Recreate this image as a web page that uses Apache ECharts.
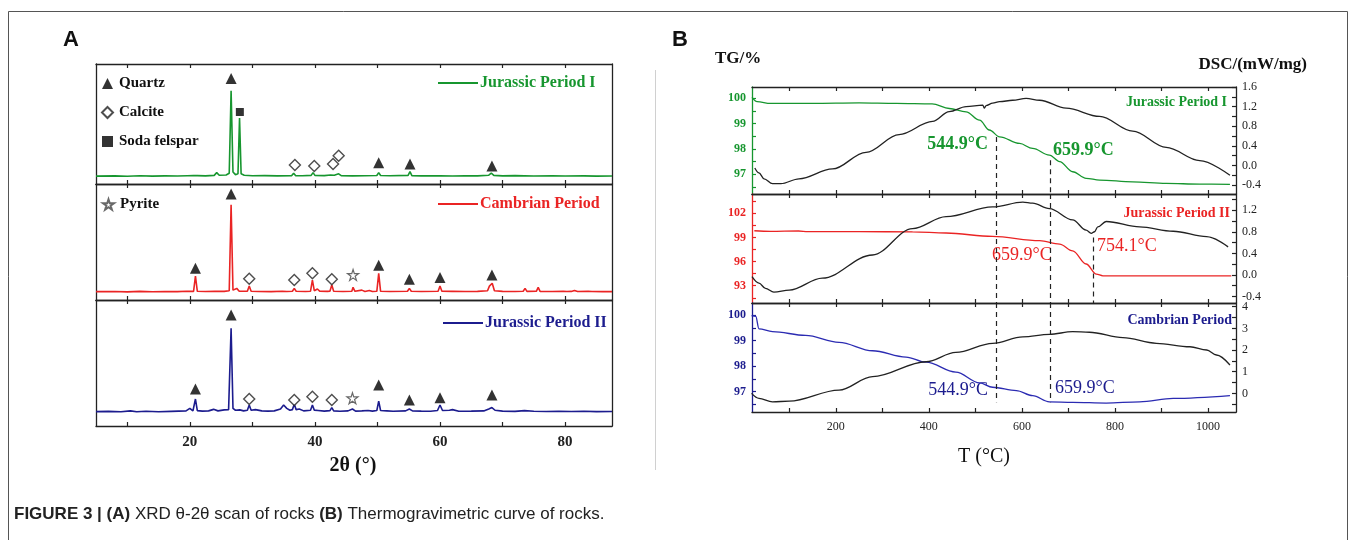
<!DOCTYPE html>
<html>
<head>
<meta charset="utf-8">
<script src="https://cdn.jsdelivr.net/npm/echarts@6/dist/echarts.min.js"></script>
<style>
html,body{margin:0;padding:0;background:#fff}
#main{width:1356px;height:540px}
</style>
</head>
<body>
<div id="main"></div>
<script>
// ---------- panel A : XRD patterns, [2theta, intensity (a.u.)]
var xrdJurassic1 = [[5,6.6],[8,6.8],[10,6.5],[12,6.9],[14,6.6],[16,6.8],[18,6.7],[19.6,6.9],[20.6,7],[20.9,8.5],[21.2,7],[22.5,6.8],[23.9,7.2],[24.3,9.5],[24.7,7.3],[25.8,7.5],[26.3,9],[26.6,77.7],[26.9,10],[27.3,7.8],[27.7,8.5],[27.95,55],[28.2,8.5],[28.7,7.3],[30,6.9],[32,7],[34,6.8],[36.3,7],[36.6,9],[36.9,7],[38,6.9],[39.4,7.2],[39.7,9.5],[40,7.2],[41.5,7],[42.5,7.5],[42.8,8.8],[43.1,7.3],[43.8,8.5],[44.2,7],[46,6.8],[48,6.9],[49.9,7.1],[50.2,9.5],[50.5,7.1],[52,6.9],[54.9,7.2],[55.2,10.3],[55.5,7],[57,6.8],[60,6.9],[62,6.7],[64,6.9],[66,6.8],[67.8,7.3],[68.2,9],[68.6,7.2],[70,6.8],[72,7],[75,6.7],[78,6.9],[80,6.7],[83,6.8],[85,6.6],[87.5,6.7]];
var xrdCambrian = [[5,7.2],[8,7.3],[10,7],[12,7.4],[14,7.1],[16,7.3],[18,7.2],[19.5,7.6],[20.6,7.4],[20.9,20.7],[21.2,7.5],[22.5,7.3],[24,7.6],[25.5,7.4],[26.3,8],[26.6,82],[26.9,8.5],[27.5,10],[27.9,7.6],[29.2,7.5],[29.5,12],[29.8,7.5],[31,7.3],[33,7.2],[34.8,7.6],[35.5,7.3],[36.4,7.6],[36.7,10],[37,7.5],[38.5,7.3],[39.3,7.6],[39.6,17.2],[39.9,8],[40.4,9.5],[40.8,7.5],[42,7.4],[42.4,7.6],[42.7,12.9],[43,7.6],[44.5,7.3],[45.9,7.6],[46.1,10.9],[46.4,7.5],[47.5,8.5],[48,7.3],[48.7,8.2],[49.2,7.3],[49.9,7.5],[50.2,23],[50.5,7.5],[52,7.3],[54.8,7.6],[55.1,10],[55.4,7.5],[57,7.3],[59.7,7.6],[60,12],[60.3,7.5],[62,7.4],[64,7.3],[66,7.4],[67.6,8],[67.9,12],[68.15,10.5],[68.35,14.4],[68.7,8],[70,7.4],[72,7.3],[73.3,7.5],[73.6,10],[73.9,7.4],[75.4,7.5],[75.7,10.9],[76,7.4],[78,7.3],[79.7,7.4],[80,8.6],[80.3,7.3],[81,7.4],[81.5,8.2],[82,7.3],[83.7,7.4],[84,8.6],[84.3,7.3],[86,7.2],[87.5,7.2]];
var xrdJurassic2 = [[5,11.4],[7,11.6],[9,11.3],[10.5,12],[11.5,11.3],[13,11.7],[15,11.3],[17,11.6],[19.4,12],[20,14],[20.5,12],[20.9,21.4],[21.2,12.2],[22,11.8],[23,12],[23.8,13.2],[24.5,12],[25.5,12.8],[26.2,13],[26.6,77.5],[26.9,14],[27.3,12.5],[28,12.8],[28.6,12],[29.2,12.5],[29.5,16.7],[29.8,12.5],[30.5,13],[31.5,12],[32.5,11.8],[33.5,12],[34.5,13.5],[35,16.7],[35.5,14],[36,12.5],[36.4,13],[36.7,17.2],[37,13],[37.5,13.5],[38.2,12],[39.3,12.5],[39.6,16.7],[39.9,12.6],[40.5,12.3],[41.5,11.8],[42.4,12.2],[42.7,14.6],[43,12],[44,11.7],[45.3,12],[46,13.5],[46.5,11.8],[47.5,12],[48.5,12.3],[49.2,11.8],[49.9,12.3],[50.2,19.8],[50.5,12.3],[51.5,12],[52.5,11.7],[54.5,12],[55.1,13.5],[55.6,12],[57,11.8],[58.5,11.7],[59.6,12.3],[60,16.7],[60.4,12.3],[61.5,12.5],[62,13],[63,11.7],[65,11.8],[67,12],[67.8,13.5],[68.3,14.6],[68.8,12.5],[70,11.8],[72,11.6],[73.5,12.2],[75,11.7],[77,11.5],[79,11.7],[81,11.5],[83,11.7],[85,11.4],[87.5,11.5]];

// phase markers [2theta, height]
var j1Quartz = [[26.6,88],[50.2,17.8],[55.2,16.7],[68.3,15]];
var j1Calcite = [[36.8,15.8],[39.9,15],[42.9,16.7],[43.8,23.6]];
var j1Felspar = [[28.0,60]];
var cbQuartz = [[20.9,27.3],[26.6,91.4],[50.2,30],[55.1,17.8],[60,19.5],[68.3,21.6]];
var cbCalcite = [[29.5,18.4],[36.7,17.2],[39.6,23],[42.7,17.8]];
var cbPyrite = [[46.1,21.6]];
var j2Quartz = [[20.9,29.4],[26.6,88],[50.2,32.5],[55.1,20.6],[60,22.5],[68.3,24.6]];
var j2Calcite = [[29.5,21.4],[36.7,20.6],[39.6,23.3],[42.7,20.6]];
var j2Pyrite = [[46,22]];

// ---------- panel B : TG (%) and DSC (mW/mg) vs T (°C)
var tgJurassic1 = [[20,100.04],[31,99.87],[60,99.8],[150,99.8],[250,99.82],[330,99.8],[407,99.78],[444,99.6],[480,99.47],[509,99.14],[530,98.75],[552,98.48],[595,98.22],[623,98.02],[659,97.76],[681,97.5],[709,97.1],[738,96.84],[767,96.77],[838,96.7],[910,96.64],[982,96.61],[1047,96.6]];
var dscJurassic1 = [[26,-0.05],[35,-0.15],[46,-0.27],[64,-0.37],[82,-0.37],[121,-0.27],[193,-0.07],[265,0.27],[336,0.63],[408,0.9],[444,1.1],[480,1.2],[516,1.23],[519,1.17],[523,1.22],[537,1.27],[552,1.3],[580,1.33],[609,1.37],[638,1.33],[695,1.17],[767,1.0],[838,0.7],[910,0.37],[982,0.1],[1047,-0.2]];
var tgJurassic2 = [[25,99.83],[60,99.75],[120,99.8],[140,99.72],[250,99.72],[365,99.7],[437,99.55],[537,99.12],[638,98.6],[681,98.18],[709,97.34],[738,95.7],[760,94.44],[774,94.23],[850,94.23],[950,94.23],[1050,94.23]];
var dscJurassic2 = [[20,-0.03],[35,-0.15],[49,-0.25],[67,-0.32],[100,-0.28],[171,-0.06],[279,0.37],[365,0.86],[437,1.08],[537,1.26],[602,1.35],[623,1.33],[659,1.23],[709,1.02],[738,0.83],[749,0.77],[756,0.8],[763,0.89],[781,0.99],[853,0.89],[925,0.81],[997,0.71],[1043,0.52]];
var tgCambrian = [[19,99.98],[28,99.95],[35,99.46],[64,99.35],[135,99.2],[207,98.93],[279,98.6],[351,98.35],[394,98.15],[458,97.76],[509,97.34],[537,97.17],[588,97.04],[623,96.84],[659,96.6],[709,96.58],[781,96.55],[853,96.6],[925,96.73],[1047,96.84]];
var dscCambrian = [[19,0],[35,-0.23],[64,-0.39],[100,-0.36],[207,0.15],[279,0.77],[394,1.46],[458,1.89],[537,2.31],[602,2.61],[659,2.72],[709,2.85],[745,2.82],[817,2.57],[889,2.31],[961,2.15],[997,2.0],[1018,1.77],[1047,1.31]];

// tick marks / labels
var xrdTicks = [10,20,30,40,50,60,70,80];
var xrdLabels = [20,40,60,80];
var tTicks = [100,200,300,400,500,600,700,800,900,1000];
var tLabels = [200,400,600,800,1000];
var tg1Ticks = [96.5,97,97.5,98,98.5,99,99.5,100], tg1Labels = [97,98,99,100];
var dsc1Ticks = [-0.4,-0.2,0,0.2,0.4,0.6,0.8,1.0,1.2,1.4,1.6], dsc1Labels = [-0.4,0,0.4,0.8,1.2,1.6];
var tg2Ticks = [91.5,93,94.5,96,97.5,99,100.5,102,103.5], tg2Labels = [93,96,99,102];
var dsc2Ticks = [-0.4,-0.2,0,0.2,0.4,0.6,0.8,1.0,1.2,1.4], dsc2Labels = [-0.4,0,0.4,0.8,1.2];
var tg3Ticks = [96.5,97,97.5,98,98.5,99,99.5,100], tg3Labels = [97,98,99,100];
var dsc3Ticks = [-0.5,0,0.5,1,1.5,2,2.5,3,3.5,4], dsc3Labels = [0,1,2,3,4];

var SERIF = 'Liberation Serif', SANS = 'Liberation Sans';
var GREEN = '#17962f', RED = '#ea2424', NAVY = '#1c1c8e', BLUE = '#2b2bb2', INK = '#222';

var grids = [
  {left:96, top:64, width:516, height:120},
  {left:96, top:184, width:516, height:116},
  {left:96, top:300, width:516, height:126},
  {left:752, top:87, width:484, height:107},
  {left:752, top:194, width:484, height:109},
  {left:752, top:303, width:484, height:109}
];

function plain(v){ return String(v); }
function fix1(v){ return v.toFixed(1); }
function int0(v){ return String(Math.round(v)); }

function xAxis(gi, pos, min, max, ticks, labels, fs, fw){
  return {type:'value', gridIndex:gi, position:pos, min:min, max:max,
    axisLine:{show:true, onZero:false, lineStyle:{color:INK, width:1.3}},
    axisTick:{show:true, inside:true, length:4, customValues:ticks, lineStyle:{color:INK, width:1.2}},
    axisLabel:{show:!!labels, customValues:labels || [], color:INK, fontFamily:SERIF, fontSize:fs || 12, fontWeight:fw || 'normal', margin:9, formatter:plain},
    splitLine:{show:false}};
}
function yAxis(gi, pos, min, max, color, ticks, labels, fmt, fw){
  return {type:'value', gridIndex:gi, position:pos, min:min, max:max,
    axisLine:{show:true, onZero:false, lineStyle:{color:color, width:1.3}},
    axisTick:{show:!!ticks, inside:true, length:4, customValues:ticks || [], lineStyle:{color:color, width:1.2}},
    axisLabel:{show:!!labels, customValues:labels || [], color:color, fontFamily:SERIF, fontSize:12, fontWeight:fw || 'normal', margin:6, formatter:fmt || plain},
    splitLine:{show:false}};
}

var xAxes = [], yAxes = [];
for (var g = 0; g < 3; g++) {
  xAxes.push(xAxis(g, 'bottom', 5, 87.5, xrdTicks, g == 2 ? xrdLabels : null, 15, 'bold'));
  xAxes.push(xAxis(g, 'top', 5, 87.5, xrdTicks, null));
  yAxes.push(yAxis(g, 'left', 0, 100, INK));
  yAxes.push(yAxis(g, 'right', 0, 100, INK));
}
var bTg = [[96.22,100.45,GREEN,tg1Ticks,tg1Labels],[90.85,104.4,RED,tg2Ticks,tg2Labels],[96.2,100.47,NAVY,tg3Ticks,tg3Labels]];
var bDsc = [[-0.58,1.6,dsc1Ticks,dsc1Labels,fix1],[-0.52,1.5,dsc2Ticks,dsc2Labels,fix1],[-0.86,4.17,dsc3Ticks,dsc3Labels,int0]];
for (var k = 0; k < 3; k++) {
  xAxes.push(xAxis(3 + k, 'bottom', 20, 1060, tTicks, k == 2 ? tLabels : null, 12));
  xAxes.push(xAxis(3 + k, 'top', 20, 1060, tTicks, null));
  yAxes.push(yAxis(3 + k, 'left', bTg[k][0], bTg[k][1], bTg[k][2], bTg[k][3], bTg[k][4], null, 'bold'));
  yAxes.push(yAxis(3 + k, 'right', bDsc[k][0], bDsc[k][1], INK, bDsc[k][2], bDsc[k][3], bDsc[k][4]));
}

function xrdLine(name, gi, data, color){
  return {name:name, type:'line', xAxisIndex:2*gi, yAxisIndex:2*gi, data:data, symbol:'none',
    lineStyle:{color:color, width:1.6}, itemStyle:{color:color}, z:3};
}
var STAR = 'path://M50,2 L61,36 L97,36 L68,57 L79,92 L50,71 L21,92 L32,57 L3,36 L39,36 Z';
var phaseStyle = {
  'Quartz': {symbol:'triangle', size:11, item:{color:'#000'}},
  'Calcite': {symbol:'diamond', size:11, item:{color:'#fff', borderColor:'#222', borderWidth:1.4}},
  'Soda felspar': {symbol:'rect', size:8, item:{color:'#000'}},
  'Pyrite': {symbol:STAR, size:11, item:{color:'#fff', borderColor:'#444', borderWidth:1.2}}
};
function phase(name, gi, data){
  var s = phaseStyle[name];
  return {name:name, type:'scatter', xAxisIndex:2*gi, yAxisIndex:2*gi, data:data,
    symbol:s.symbol, symbolSize:s.size, itemStyle:s.item, z:4};
}
var dashStyle = {type:[5,4], color:INK, width:1.2};
function curve(name, gi, right, data, color, marks){
  var s = {name:name, type:'line', xAxisIndex:2*(3+gi), yAxisIndex:2*(3+gi) + (right ? 1 : 0), data:data,
    symbol:'none', smooth:0.35, smoothMonotone:'x', lineStyle:{color:color, width:1.3}, z:3};
  if (marks) {
    s.markLine = {silent:true, symbol:['none','none'], label:{show:false}, lineStyle:dashStyle, animation:false,
      data:marks.map(function(m){ return [{coord:[m[0], m[1]]}, {coord:[m[0], m[2]]}]; })};
  }
  return s;
}

var series = [
  xrdLine('Jurassic Period I', 0, xrdJurassic1, GREEN),
  xrdLine('Cambrian Period', 1, xrdCambrian, RED),
  xrdLine('Jurassic Period II', 2, xrdJurassic2, NAVY),
  phase('Quartz', 0, j1Quartz), phase('Calcite', 0, j1Calcite), phase('Soda felspar', 0, j1Felspar),
  phase('Quartz', 1, cbQuartz), phase('Calcite', 1, cbCalcite), phase('Pyrite', 1, cbPyrite),
  phase('Quartz', 2, j2Quartz), phase('Calcite', 2, j2Calcite), phase('Pyrite', 2, j2Pyrite),
  curve('TG I', 0, false, tgJurassic1, GREEN, [[544.9,98.47,96.22],[659.9,97.55,96.22]]),
  curve('DSC I', 0, true, dscJurassic1, INK),
  curve('TG II', 1, false, tgJurassic2, RED, [[544.9,104.4,90.85],[659.9,104.4,90.85],[754.1,99.0,90.85]]),
  curve('DSC II', 1, true, dscJurassic2, INK),
  curve('TG C', 2, false, tgCambrian, BLUE, [[544.9,100.47,96.58],[659.9,100.47,96.58]]),
  curve('DSC C', 2, true, dscCambrian, INK)
];

function seriesLegend(name, left, top, color){
  return {data:[{name:name, icon:'rect'}], left:left, top:top, selectedMode:false, itemWidth:40, itemHeight:2, padding:0,
    textStyle:{color:color, fontFamily:SERIF, fontWeight:'bold', fontSize:16, padding:[0,0,0,-3]}};
}
var mineralText = {color:'#111', fontFamily:SERIF, fontWeight:'bold', fontSize:15, padding:[0,0,0,1]};
var legends = [
  seriesLegend('Jurassic Period I', 438, 75, GREEN),
  seriesLegend('Cambrian Period', 438, 196, RED),
  seriesLegend('Jurassic Period II', 443, 315, NAVY),
  {data:['Quartz','Calcite','Soda felspar'], orient:'vertical', left:101, top:76, selectedMode:false, padding:0,
    itemWidth:11, itemHeight:11, itemGap:14, textStyle:mineralText},
  {data:['Pyrite'], left:102, top:197, selectedMode:false, padding:0,
    itemWidth:11, itemHeight:11, textStyle:mineralText}
];

function txt(x, y, text, size, color, align, weight, family){
  return {type:'text', silent:true, style:{x:x, y:y, text:text, fill:color || INK, align:align || 'left', verticalAlign:'middle',
    font:(weight || 'normal') + ' ' + size + 'px "' + (family || SERIF) + '"'}};
}

var graphics = [
  {type:'rect', silent:true, shape:{x:8.5, y:11.5, width:1339, height:560}, style:{fill:'none', stroke:'#555', lineWidth:1}},
  {type:'line', silent:true, shape:{x1:655.5, y1:70, x2:655.5, y2:470}, style:{stroke:'#d0d0d0', lineWidth:1}},
  txt(63, 40, 'A', 22, '#111', 'left', 'bold', SANS),
  txt(672, 40, 'B', 22, '#111', 'left', 'bold', SANS),
  txt(353, 466, '2θ (°)', 20, '#111', 'center', 'bold'),
  txt(715, 59, 'TG/%', 17, '#111', 'left', 'bold'),
  txt(1307, 65, 'DSC/(mW/mg)', 17, '#111', 'right', 'bold'),
  txt(984, 457, 'T (°C)', 20, '#111', 'center', 'normal'),
  txt(1227, 102, 'Jurassic Period I', 14, GREEN, 'right', 'bold'),
  txt(988, 144, '544.9°C', 18, GREEN, 'right', 'bold'),
  txt(1053, 150, '659.9°C', 18, GREEN, 'left', 'bold'),
  txt(1230, 213, 'Jurassic Period II', 14, RED, 'right', 'bold'),
  txt(992, 255, '659.9°C', 18, RED, 'left', 'normal'),
  txt(1097, 246, '754.1°C', 18, RED, 'left', 'normal'),
  txt(1232, 320, 'Cambrian Period', 14, NAVY, 'right', 'bold'),
  txt(988, 390, '544.9°C', 18, NAVY, 'right', 'normal'),
  txt(1055, 388, '659.9°C', 18, NAVY, 'left', 'normal'),
  {type:'text', silent:true, style:{x:14, y:514, verticalAlign:'middle', fill:'#222',
    text:'{b|FIGURE 3 | (A)} XRD θ-2θ scan of rocks {b|(B)} Thermogravimetric curve of rocks.',
    font:'17px "' + SANS + '"',
    rich:{b:{fontWeight:'bold', fontSize:17, fontFamily:SANS, fill:'#222'}}}}
];

var chart = echarts.init(document.getElementById('main'), null, {renderer:'canvas'});
chart.setOption({
  animation:false,
  backgroundColor:'#fff',
  textStyle:{fontFamily:SERIF},
  grid:grids,
  xAxis:xAxes,
  yAxis:yAxes,
  legend:legends,
  series:series,
  graphic:graphics
});
</script>
</body>
</html>
